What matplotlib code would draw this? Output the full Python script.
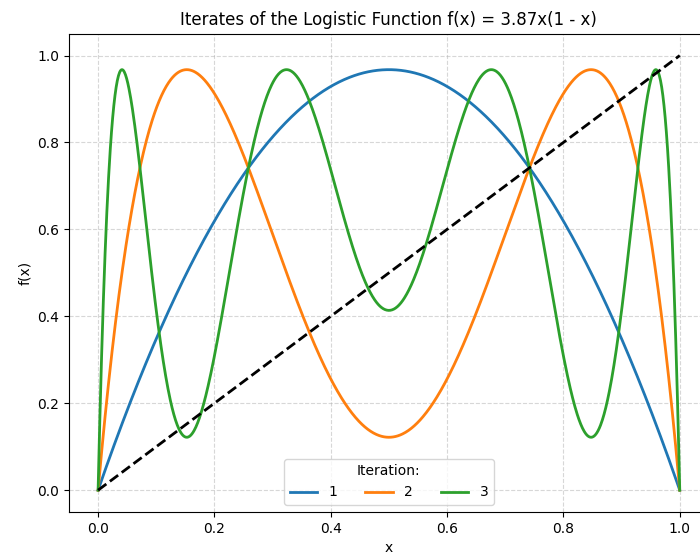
import numpy as np
import matplotlib
matplotlib.use("Agg")
import matplotlib.pyplot as plt

# logistic map parameter and the iterations to draw
r = 3.87
iterations = [1, 2, 3]
colors = ["#1f77b4", "#ff7f0e", "#2ca02c"]


def logistic(x):
    return r * x * (1 - x)


x = np.linspace(0, 1, 1000)

fig = plt.figure(figsize=(7.0, 5.54), dpi=100)
ax = fig.add_axes([0.0986, 0.076, 0.914, 0.863])

for n, c in zip(iterations, colors):
    y = x.copy()
    for _ in range(n):
        y = logistic(y)
    ax.plot(x, y, color=c, lw=2, label=str(n))

ax.plot(x, x, "k--", lw=2)

ax.set_xlabel("x")
ax.set_ylabel("f(x)")
ax.set_title("Iterates of the Logistic Function f(x) = 3.87x(1 - x)")
ax.grid(True, linestyle="--", alpha=0.5)
ax.legend(title="Iteration:", loc="lower center", ncol=3)

fig.savefig("out.png", dpi=100)
